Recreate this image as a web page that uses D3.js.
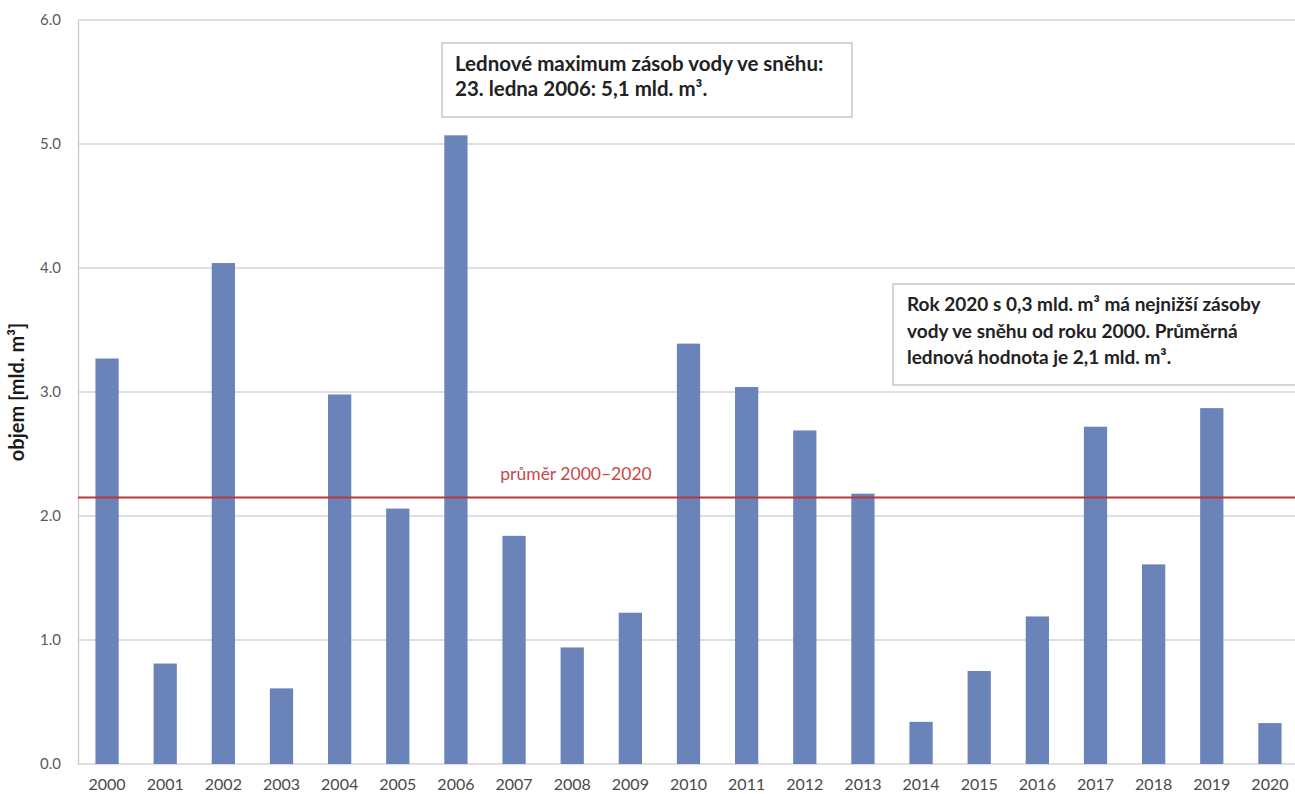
<!DOCTYPE html>
<html>
<head>
<meta charset="utf-8">
<script src="https://cdn.jsdelivr.net/npm/d3@7"></script>
<style>
  html, body { margin: 0; padding: 0; background: #fff; }
  svg { display: block; }
</style>
</head>
<body>
<svg id="chart" width="1295" height="794"></svg>
<script>
// January snow water storage, 2000–2020 (bil. m³)
const years = ["2000","2001","2002","2003","2004","2005","2006","2007","2008","2009","2010",
               "2011","2012","2013","2014","2015","2016","2017","2018","2019","2020"];
const volumes = [3.27, 0.81, 4.04, 0.61, 2.98, 2.06, 5.07, 1.84, 0.94, 1.22, 3.39,
                 3.04, 2.69, 2.18, 0.34, 0.75, 1.19, 2.72, 1.61, 2.87, 0.33];
const yTicks = [0, 1, 2, 3, 4, 5, 6];
const meanValue = 2.15;
const meanLabel = "průměr 2000–2020";
const yTitle = "objem [mld. m³]";
const noteMax = ["Lednové maximum zásob vody ve sněhu:", "23. ledna 2006: 5,1 mld. m³."];
const noteMin = ["Rok 2020 s 0,3 mld. m³ má nejnižší zásoby",
                 "vody ve sněhu od roku 2000. Průměrná",
                 "lednová hodnota je 2,1 mld. m³."];

const svg = d3.select("#chart");
const plot = { left: 78, right: 1299, top: 20, bottom: 764 };
const font = "Lato, 'Open Sans', sans-serif";

const x = d3.scaleBand().domain(years).range([plot.left, plot.right]).paddingInner(0.6).paddingOuter(0.3);
const y = d3.scaleLinear().domain([0, 6]).range([plot.bottom, plot.top]);

// gridlines
svg.append("g").selectAll("line").data(yTicks).join("line")
  .attr("x1", plot.left).attr("x2", 1295)
  .attr("y1", d => y(d)).attr("y2", d => y(d))
  .attr("stroke", "#d4d4d4").attr("stroke-width", 1.3);

// y axis
const yAxis = svg.append("g").attr("transform", `translate(${plot.left},0)`)
  .call(d3.axisLeft(y).tickValues(yTicks).tickFormat(d3.format(".1f")).tickSize(0).tickPadding(17));
yAxis.select(".domain").attr("stroke", "#c8c8c8").attr("stroke-width", 1.3);
yAxis.selectAll("text").attr("font-family", font).attr("font-size", 15).attr("fill", "#5a5a5a");

// x axis
const xAxis = svg.append("g").attr("transform", `translate(0,${plot.bottom})`)
  .call(d3.axisBottom(x).tickSize(0).tickPadding(15));
xAxis.select(".domain").remove();
xAxis.selectAll("text").attr("font-family", font).attr("font-size", 16).attr("fill", "#4a4a4a");

// bars
svg.append("g").selectAll("rect").data(years).join("rect")
  .attr("x", d => x(d))
  .attr("width", x.bandwidth())
  .attr("y", (d, i) => y(volumes[i]))
  .attr("height", (d, i) => y(0) - y(volumes[i]))
  .attr("fill", "#6a84ba");

// mean line
svg.append("line")
  .attr("x1", plot.left).attr("x2", 1295)
  .attr("y1", y(meanValue)).attr("y2", y(meanValue))
  .attr("stroke", "#b8373a").attr("stroke-width", 2);
svg.append("text")
  .attr("x", 576).attr("y", 480)
  .attr("text-anchor", "middle")
  .attr("font-family", font).attr("font-size", 17.5)
  .attr("fill", "#c9484a")
  .text(meanLabel);

// y axis title
svg.append("text")
  .attr("transform", `translate(24,${(plot.top + plot.bottom) / 2}) rotate(-90)`)
  .attr("text-anchor", "middle")
  .attr("font-family", font).attr("font-size", 20).attr("font-weight", "bold")
  .attr("fill", "#1a1a1a")
  .text(yTitle);

// annotation boxes
function note(x0, y0, w, h, lines, size, lineGap, tx, ty) {
  const g = svg.append("g");
  g.append("rect").attr("x", x0).attr("y", y0).attr("width", w).attr("height", h)
    .attr("fill", "#fff").attr("stroke", "#bdbdbd").attr("stroke-width", 1.3);
  g.selectAll("text").data(lines).join("text")
    .attr("x", tx).attr("y", (d, i) => ty + i * lineGap)
    .attr("font-family", font).attr("font-size", size).attr("font-weight", "bold")
    .attr("fill", "#222")
    .text(d => d);
}
note(442, 43, 410, 74, noteMax, 20.5, 25, 455, 71);
note(893, 284, 420, 101, noteMin, 19, 26.5, 907, 311);
</script>
</body>
</html>
